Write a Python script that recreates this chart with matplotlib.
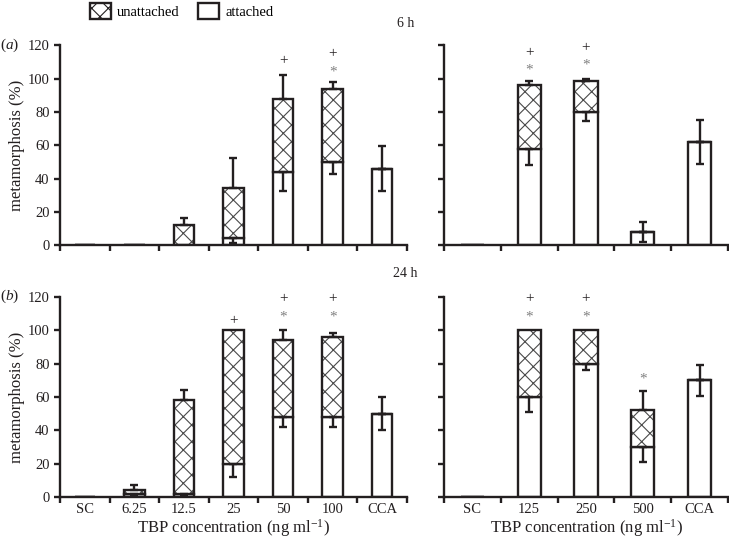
import matplotlib
matplotlib.use("Agg")
import matplotlib.pyplot as plt
from matplotlib.patches import Patch
import numpy as np

plt.rcParams["font.family"] = ["Liberation Serif", "DejaVu Serif"]
plt.rcParams["mathtext.fontset"] = "custom"
plt.rcParams["mathtext.rm"] = "Liberation Serif"
plt.rcParams["mathtext.it"] = "Liberation Serif:italic"
plt.rcParams["hatch.linewidth"] = 0.8

INK = "#231f20"
HATCH = "#4a4a4a"
STAR = "#808080"

# categories
cats_low = ["SC", "6.25", "12.5", "25", "50", "100", "CCA"]
cats_high = ["SC", "125", "250", "500", "CCA"]

# 6 h, low concentrations
att_6h_low = [0, 0, 0, 4, 44, 50, 46]
tot_6h_low = [0, 0, 12, 34, 88, 94, 46]
up_6h_low = [0, 0, 4, 18.5, 14.5, 4, 13.5]
dn_6h_low = [0, 0, 0, 3, 11.5, 7, 13.5]
plus_6h_low = [(4, 111), (5, 115)]
star_6h_low = [(5, 104)]

# 6 h, high concentrations
att_6h_high = [0, 58, 80, 8, 62]
tot_6h_high = [0, 96, 98.5, 8, 62]
up_6h_high = [0, 2.5, 1.5, 6, 13]
dn_6h_high = [0, 10, 5.5, 6, 13.5]
plus_6h_high = [(1, 116), (2, 119)]
star_6h_high = [(1, 105), (2, 108)]

# 24 h, low concentrations
att_24h_low = [0, 2, 2, 20, 48, 48, 50]
tot_24h_low = [0, 4, 58, 100, 94, 96, 50]
up_24h_low = [0, 3, 6.5, 0, 6, 2.5, 10]
dn_24h_low = [0, 1, 1, 8, 6, 6, 10]
plus_24h_low = [(3, 106), (4, 119), (5, 119)]
star_24h_low = [(4, 108), (5, 108)]

# 24 h, high concentrations
att_24h_high = [0, 60, 80, 30, 70]
tot_24h_high = [0, 100, 100, 52, 70]
up_24h_high = [0, 0, 0, 11.5, 9.5]
dn_24h_high = [0, 9, 3.5, 9, 9.5]
plus_24h_high = [(1, 119), (2, 119)]
star_24h_high = [(1, 108), (2, 108), (3, 71)]

W = 0.41


def draw(ax, cats, att, tot, up, dn, plus, star, ticklabels, ylabels):
    x = np.arange(len(cats))
    att = np.array(att, float)
    tot = np.array(tot, float)
    up = np.array(up, float)
    dn = np.array(dn, float)
    unatt = tot - att
    # attached (white)
    ax.bar(x, att, W, color="white", edgecolor=INK, linewidth=1.7, zorder=2)
    # unattached (hatched) fill then outline
    ax.bar(x, unatt, W, bottom=att, color="white", edgecolor=HATCH,
           hatch="xx", linewidth=0, zorder=2)
    ax.bar(x, unatt, W, bottom=att, fill=False, edgecolor=INK,
           linewidth=1.7, zorder=2.5)
    kw = dict(fmt="none", ecolor=INK, elinewidth=1.7, capsize=3,
              capthick=1.7, zorder=3)
    m = up > 0
    ax.errorbar(x[m], tot[m], yerr=[np.zeros(m.sum()), up[m]], **kw)
    m = dn > 0
    ax.errorbar(x[m], att[m], yerr=[dn[m], np.zeros(m.sum())], **kw)
    for i, y in plus:
        ax.text(i, y, "+", ha="center", va="center", fontsize=11, color=INK)
    for i, y in star:
        ax.text(i, y, "*", ha="center", va="center", fontsize=11, color=STAR)

    ax.set_xlim(-0.5, len(cats) - 0.5)
    ax.set_ylim(0, 120)
    ax.set_xticks(np.arange(len(cats) + 1) - 0.5)
    ax.set_xticklabels([])
    ax.set_xticks(x, minor=True)
    if ticklabels:
        ax.set_xticklabels(cats, minor=True, fontsize=10.5, color=INK)
        ax.set_xlabel("TBP concentration (ng ml$^{-1}$)", fontsize=12,
                      color=INK, labelpad=1)
    ax.tick_params(axis="x", which="minor", length=0, pad=4)
    ax.tick_params(axis="both", which="major", direction="out", length=4,
                   width=1.7, color=INK)
    ax.set_yticks(range(0, 121, 20))
    if ylabels:
        ax.set_yticklabels([str(v) for v in range(0, 121, 20)], fontsize=10.5,
                           color=INK)
        ax.set_ylabel("metamorphosis (%)", fontsize=12, color=INK, labelpad=2)
    else:
        ax.set_yticklabels([])
    for s in ("top", "right"):
        ax.spines[s].set_visible(False)
    for s in ("left", "bottom"):
        ax.spines[s].set_linewidth(1.7)
        ax.spines[s].set_color(INK)


fig = plt.figure(figsize=(7.29, 5.41), dpi=100)
ax_tl = fig.add_axes([0.0823, 0.5471, 0.476, 0.3688])
ax_tr = fig.add_axes([0.609, 0.5471, 0.3896, 0.3688])
ax_bl = fig.add_axes([0.0823, 0.0813, 0.476, 0.3697])
ax_br = fig.add_axes([0.609, 0.0813, 0.3896, 0.3697])

draw(ax_tl, cats_low, att_6h_low, tot_6h_low, up_6h_low, dn_6h_low,
     plus_6h_low, star_6h_low, False, True)
draw(ax_tr, cats_high, att_6h_high, tot_6h_high, up_6h_high, dn_6h_high,
     plus_6h_high, star_6h_high, False, False)
draw(ax_bl, cats_low, att_24h_low, tot_24h_low, up_24h_low, dn_24h_low,
     plus_24h_low, star_24h_low, True, True)
draw(ax_br, cats_high, att_24h_high, tot_24h_high, up_24h_high, dn_24h_high,
     plus_24h_high, star_24h_high, True, False)

fig.text(0.0, 0.917, "($a$)", fontsize=11, color=INK, va="center")
fig.text(0.0, 0.452, "($b$)", fontsize=11, color=INK, va="center")
fig.text(0.557, 0.957, "6 h", fontsize=10, color=INK, ha="center", va="center")
fig.text(0.556, 0.495, "24 h", fontsize=10, color=INK, ha="center", va="center")

handles = [Patch(facecolor="white", edgecolor=INK, hatch="xx", linewidth=1.7,
                 label="unattached"),
           Patch(facecolor="white", edgecolor=INK, linewidth=1.7,
                 label="attached")]
fig.legend(handles=handles, loc="upper left", bbox_to_anchor=(0.123, 0.995),
           ncol=2, frameon=False, fontsize=10.5, handlelength=1.45,
           handleheight=1.35, handletextpad=0.4, columnspacing=1.3,
           borderaxespad=0, borderpad=0)

fig.savefig("out.png", dpi=100)
